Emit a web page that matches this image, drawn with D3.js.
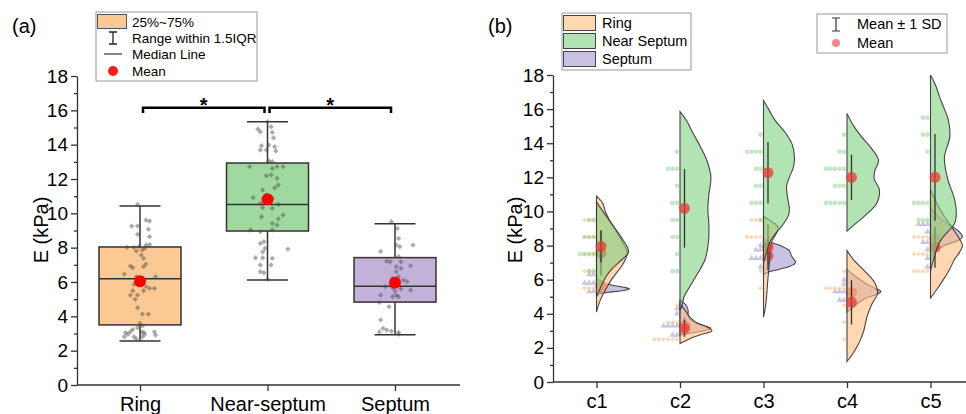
<!DOCTYPE html>
<html>
<head>
<meta charset="utf-8">
<script src="https://cdn.jsdelivr.net/npm/d3@7"></script>
<style>
  body { margin: 0; background: #fff; }
  svg { display: block; }
  text { font-family: "Liberation Sans", Arial, sans-serif; fill: #000; }
</style>
</head>
<body>
<svg id="chart" width="966" height="414"></svg>
<script>
// ---------- panel (a): box plot data ----------
const groupsA = ['Ring', 'Near-septum', 'Septum'];
const whiskerLow  = [2.56, 6.12, 2.93];
const q1          = [3.50, 8.97, 4.83];
const median      = [6.19, 10.52, 5.75];
const q3          = [8.04, 12.93, 7.42];
const whiskerHigh = [10.43, 15.34, 9.40];
const meanA       = [6.04, 10.82, 5.96];

// raw points: [value, jitter]
const ringPts = [[10.52,-2],[9.61,5],[9.55,8],[9.26,-7],[9.26,-2],[9.07,7],[8.78,-2],[8.64,8],[8.02,-11],[8.02,-5],[8.06,-1],[8.15,5],[8.19,8],[7.80,-3],[7.86,2],[7.96,4],[7.57,1],[7.38,3],[7.05,5],[6.93,-8],[6.83,-6],[6.89,3],[6.46,-13],[6.31,-3],[5.98,-2],[6.31,13],[6.06,2],[5.86,-5],[5.73,5],[5.63,8],[5.63,12],[5.49,3],[5.49,-6],[5.24,-8],[5.24,-2],[4.99,-4],[4.50,-2],[4.13,2],[4.13,7],[3.59,0],[3.44,2],[3.34,-2],[3.24,-6],[3.10,-8],[3.05,-12],[2.95,-10],[3.10,1],[3.07,3],[3.10,12],[2.91,13],[2.81,-13],[2.81,-5],[2.68,-3],[2.81,2],[2.95,4]];
const nearPts = [[15.34,0],[14.91,-8],[14.75,-6],[15.05,3],[14.71,4],[14.40,5],[13.94,-5],[13.98,1],[13.88,6],[13.69,-6],[13.69,-1],[13.63,7],[13.01,4],[13.05,1],[12.72,-15],[12.62,4],[12.72,8],[12.72,13],[12.19,-1],[12.23,3],[12.04,8],[11.65,9],[11.49,6],[11.36,-4],[11.06,-1],[10.91,-12],[10.97,0],[10.87,4],[10.58,-6],[10.52,9],[10.33,-4],[10.29,4],[9.90,13],[9.80,-5],[9.67,9],[9.41,4],[9.32,8],[9.03,-14],[8.93,-6],[9.03,4],[8.35,-3],[8.25,-6],[7.96,-2],[7.76,-4],[7.92,17],[7.41,-10],[7.41,-4],[7.38,4],[6.99,-6],[6.99,3],[6.60,-6],[6.54,-3],[6.15,0]];
const septPts = [[9.51,-3],[9.12,2],[8.54,3],[8.15,1],[8.06,4],[8.15,15],[7.77,-12],[7.47,3],[7.22,-7],[7.18,-4],[7.18,5],[6.89,1],[6.95,13],[6.79,5],[6.60,1],[6.31,3],[6.21,-2],[6.11,7],[6.02,10],[5.73,-8],[5.67,-2],[5.59,5],[5.53,13],[5.47,0],[5.24,1],[5.24,-12],[5.14,-2],[5.14,3],[4.81,-13],[4.56,-5],[3.79,-12],[3.30,-10],[3.20,-7],[3.14,-3],[3.10,-13],[3.07,3],[2.95,3]];
const pointsA = [ringPts, nearPts, septPts];
const sigPairs = [['Ring', 'Near-septum'], ['Near-septum', 'Septum']];

// ---------- panel (b): half violins ----------
const cats = ['c1', 'c2', 'c3', 'c4', 'c5'];
const groupsB = ['Ring', 'Near Septum', 'Septum'];

// density profiles: [value, relative width]
const ringProfiles = [
  [[10.9,0],[10.5,0.18],[10.0,0.26],[9.5,0.38],[9.0,0.53],[8.5,0.68],[8.0,0.82],[7.6,0.91],[7.2,0.85],[6.8,0.74],[6.4,0.59],[6.0,0.44],[5.6,0.32],[5.2,0.21],[4.7,0.09],[4.1,0]],
  [[4.6,0],[4.2,0.15],[3.8,0.29],[3.5,0.47],[3.2,0.82],[3.0,0.94],[2.8,0.65],[2.6,0.35],[2.4,0.15],[2.25,0]],
  [[9.7,0],[9.4,0.25],[9.1,0.42],[8.8,0.4],[8.3,0.26],[7.7,0.19],[7.1,0.18],[6.5,0.15],[5.8,0.12],[5.0,0.09],[4.3,0.05],[3.8,0]],
  [[7.7,0],[7.15,0.2],[6.55,0.5],[5.8,0.82],[5.2,0.9],[4.6,0.74],[3.85,0.59],[3.05,0.5],[2.5,0.4],[2.05,0.29],[1.6,0.15],[1.2,0]],
  [[11.3,0],[10.5,0.18],[9.7,0.41],[9.0,0.65],[8.4,0.85],[8.0,0.94],[7.6,0.85],[7.2,0.71],[6.6,0.56],[6.0,0.38],[5.5,0.21],[5.0,0.03],[4.9,0]]
];
const nearProfiles = [
  [[10.55,0],[10.2,0.12],[9.8,0.26],[9.3,0.44],[8.8,0.62],[8.3,0.79],[7.9,0.91],[7.6,0.94],[7.3,0.82],[7.0,0.65],[6.6,0.44],[6.2,0.29],[5.8,0.18],[5.4,0.09],[5.0,0]],
  [[15.85,0],[15.3,0.2],[14.6,0.38],[13.8,0.6],[13.0,0.79],[12.0,0.91],[11.0,0.85],[10.1,0.82],[9.2,0.85],[8.3,0.84],[7.2,0.74],[6.3,0.5],[5.6,0.29],[5.0,0.12],[4.5,0.06],[4.2,0]],
  [[16.5,0],[16.0,0.15],[15.4,0.32],[14.6,0.65],[13.9,0.85],[13.2,0.91],[12.6,0.88],[12.0,0.76],[11.5,0.68],[10.8,0.71],[10.2,0.76],[9.8,0.74],[9.2,0.56],[8.7,0.35],[8.2,0.18],[7.6,0.09],[7.0,0]],
  [[15.75,0],[15.0,0.2],[14.4,0.42],[13.8,0.68],[13.0,0.93],[12.4,0.82],[11.9,0.8],[11.3,0.95],[10.5,0.88],[9.7,0.5],[9.2,0.2],[8.85,0]],
  [[18.0,0],[17.4,0.15],[16.7,0.27],[16.0,0.41],[15.4,0.52],[14.4,0.57],[13.2,0.41],[12.4,0.45],[11.8,0.52],[10.7,0.71],[9.9,0.76],[9.3,0.71],[8.5,0.37],[8.1,0.24],[7.2,0.09],[6.5,0]]
];
const septProfiles = [
  [[6.1,0],[5.9,0.12],[5.7,0.41],[5.55,0.82],[5.45,0.97],[5.35,0.74],[5.25,0.29],[5.15,0.06],[5.1,0]],
  [[4.8,0],[4.5,0.18],[4.2,0.24],[3.9,0.24],[3.6,0.35],[3.35,0.62],[3.15,0.91],[3.0,0.7],[2.85,0.25],[2.75,0]],
  [[8.4,0],[8.2,0.2],[8.0,0.5],[7.7,0.76],[7.4,0.82],[7.0,0.94],[6.8,0.8],[6.6,0.45],[6.45,0.15],[6.3,0]],
  [[6.6,0],[6.2,0.24],[5.8,0.53],[5.5,0.82],[5.3,1.0],[5.15,0.88],[4.9,0.53],[4.5,0.24],[4.1,0]],
  [[10.2,0],[9.8,0.18],[9.4,0.41],[9.1,0.65],[8.8,0.85],[8.5,0.94],[8.3,0.82],[8.0,0.41],[7.6,0.12],[7.2,0]]
];

// raw values shown as dots
const ringDots = [
  [9.5,9.5,9.5,8.5,8.5,8.5,7.5,7.5,7.5,6.5,6.5,6.5,5.5,5.5,5.5],
  [4.5,3.5,3.5,3.5,2.5,2.5,2.5,2.5,2.5,2.5],
  [9.5,9.5,9.5,8.5,8.5,8.5,8.5,6.5,5.5],
  [6.5,5.5,5.5,5.5,5.5,5.5,4.5,3.5,2.5],
  [8.5,8.5,8.5,8.5,7.5,7.5,7.5,7.5,6.5,6.5,6.5,6.5]
];
const nearDots = [
  [9.5,9.5,8.5,8.5,8.5,7.5,7.5,7.5,7.5,6.5,6.5],
  [13.5,12.5,12.5,12.5,11.5,10.5,10.5,9.5,9.5,8.5,8.5,7.5,6.5,6.5],
  [14.5,13.5,13.5,13.5,13.5,12.5,12.5,11.5,11.5,10.5,10.5,10.5,9.5],
  [14.5,13.5,13.5,12.5,12.5,12.5,12.5,12.5,11.5,11.5,11.5,10.5,10.5,10.5,10.5,10.5],
  [15.5,15.5,14.5,14.5,13.5,10.5,10.5,10.5,10.5,9.5,9.5,9.5]
];
const septDots = [
  [6.3,6.3,5.8,5.8,5.8,5.3,5.3],
  [4.3,4.0,3.3,3.3,3.3,3.3,2.75,2.75],
  [8.0,7.75,7.75,7.25,7.25,7.25,6.75],
  [6.0,5.75,5.3,5.3,5.3,4.8,4.8],
  [9.25,9.25,9.25,8.8,8.2,8.2,7.75,7.25,6.75]
];

const ringMean = [7.55, 3.15, 7.90, 4.67, 7.90];
const ringSD   = [1.30, 0.50, 1.35, 1.30, 1.20];
const nearMean = [7.95, 10.18, 12.27, 12.00, 12.00];
const nearSD   = [0.95, 2.30, 1.80, 1.33, 2.54];
const septMean = [5.60, 3.30, 7.40, 5.24, 8.40];
const septSD   = [0.40, 0.50, 0.50, 0.40, 0.70];

// ---------- drawing ----------
const svg = d3.select('#chart');
const axisColor = '#333';

function styleAxis(g, size) {
  g.attr('font-family', '"Liberation Sans", Arial, sans-serif').attr('font-size', size);
  g.selectAll('line').attr('stroke', axisColor).attr('stroke-width', 1.3);
  g.selectAll('path').attr('stroke', axisColor).attr('stroke-width', 1.3);
  g.selectAll('text').attr('fill', '#000');
}

function drawYAxis(y, x0, xEnd) {
  const major = svg.append('g').attr('transform', `translate(${x0},0)`)
    .call(d3.axisLeft(y).tickValues(d3.range(0, 19, 2)).tickSize(6).tickPadding(3).tickSizeOuter(0));
  styleAxis(major, 19);
  const minor = svg.append('g').attr('transform', `translate(${x0},0)`)
    .call(d3.axisLeft(y).tickValues(d3.range(1, 18, 2)).tickSize(3).tickFormat(''));
  minor.select('.domain').remove();
  styleAxis(minor, 19);
  svg.append('line')
    .attr('x1', x0).attr('x2', xEnd)
    .attr('y1', y(0)).attr('y2', y(0))
    .attr('stroke', axisColor).attr('stroke-width', 1.3);
}

function drawXAxis(x, y0) {
  const g = svg.append('g').attr('transform', `translate(0,${y0})`)
    .call(d3.axisBottom(x).tickSize(6).tickPadding(6).tickSizeOuter(0));
  g.select('.domain').remove();
  styleAxis(g, 20);
}

// ===== panel (a) =====
const yA = d3.scaleLinear().domain([0, 18]).range([385, 76]);
const xA = d3.scalePoint().domain(groupsA).range([140, 395]);
const boxW = 82;
const jitter = d3.scaleLinear().domain([-40, 40]).range([-48, 48]);
const boxColors = ['#FCC894', '#A0D9A0', '#C2B2DA'];

drawYAxis(yA, 77, 460);
drawXAxis(xA, 385);

groupsA.forEach((grp, i) => {
  const cx = xA(grp);
  const g = svg.append('g');
  g.append('line').attr('x1', cx).attr('x2', cx)
    .attr('y1', yA(whiskerLow[i])).attr('y2', yA(whiskerHigh[i]))
    .attr('stroke', axisColor).attr('stroke-width', 1.5);
  [whiskerLow[i], whiskerHigh[i]].forEach(v => {
    g.append('line').attr('x1', cx - boxW / 4).attr('x2', cx + boxW / 4)
      .attr('y1', yA(v)).attr('y2', yA(v))
      .attr('stroke', axisColor).attr('stroke-width', 1.5);
  });
  g.append('rect')
    .attr('x', cx - boxW / 2).attr('y', yA(q3[i]))
    .attr('width', boxW).attr('height', yA(q1[i]) - yA(q3[i]))
    .attr('fill', boxColors[i]).attr('stroke', axisColor).attr('stroke-width', 1.5);
  g.append('line').attr('x1', cx - boxW / 2).attr('x2', cx + boxW / 2)
    .attr('y1', yA(median[i])).attr('y2', yA(median[i]))
    .attr('stroke', axisColor).attr('stroke-width', 1.5);

  g.selectAll('path.pt')
    .data(pointsA[i])
    .enter()
    .append('path')
    .attr('class', 'pt')
    .attr('d', d3.symbol(d3.symbolSquare, 14))
    .attr('transform', d => `translate(${cx + jitter(d[1])},${yA(d[0])}) rotate(45)`)
    .attr('fill', '#444')
    .attr('fill-opacity', 0.45);

  g.append('circle').attr('cx', cx).attr('cy', yA(meanA[i])).attr('r', 6)
    .attr('fill', '#FF0000');
});

// significance brackets
sigPairs.forEach(([a, b], k) => {
  const x1 = xA(a) + (k === 0 ? 3 : 2);
  const x2 = xA(b) - (k === 0 ? 3 : 4);
  svg.append('path')
    .attr('d', `M${x1},${yA(15.85)}V${yA(16.15)}H${x2}V${yA(15.85)}`)
    .attr('fill', 'none').attr('stroke', '#000').attr('stroke-width', 2.5);
  svg.append('text')
    .attr('x', (x1 + x2) / 2).attr('y', yA(16.15) + 4)
    .attr('text-anchor', 'middle').attr('font-size', 20).attr('font-weight', 'bold')
    .text('*');
});

svg.append('text')
  .attr('transform', 'translate(48,230) rotate(-90)')
  .attr('text-anchor', 'middle').attr('font-size', 20)
  .text('E (kPa)');
svg.append('text').attr('x', 12).attr('y', 33).attr('font-size', 20).text('(a)');

// legend (a)
const legA = svg.append('g');
legA.append('rect').attr('x', 96).attr('y', 12).attr('width', 161).attr('height', 69)
  .attr('fill', '#fff').attr('stroke', '#999').attr('stroke-width', 1);
legA.append('rect').attr('x', 97.5).attr('y', 14.5).attr('width', 29).attr('height', 14)
  .attr('fill', boxColors[0]).attr('stroke', '#555').attr('stroke-width', 1);
legA.append('path').attr('d', 'M109,32H117M113,32V44M109,44H117')
  .attr('stroke', '#222').attr('stroke-width', 1.3).attr('fill', 'none');
legA.append('line').attr('x1', 104).attr('x2', 122).attr('y1', 54).attr('y2', 54)
  .attr('stroke', '#444').attr('stroke-width', 1.3);
legA.append('circle').attr('cx', 113).attr('cy', 71).attr('r', 5).attr('fill', '#FF1a1a');
['25%~75%', 'Range within 1.5IQR', 'Median Line', 'Mean'].forEach((t, i) => {
  legA.append('text').attr('x', 132).attr('y', [22, 38, 54, 71][i]).attr('dy', '0.35em')
    .attr('font-size', 13.5).text(t);
});

// ===== panel (b) =====
const yB = d3.scaleLinear().domain([0, 18]).range([382, 75]);
const xB = d3.scalePoint().domain(cats).range([596.5, 930.5]);
const wB = d3.scaleLinear().domain([0, 1]).range([0, 34]);

drawYAxis(yB, 553, 966);
drawXAxis(xB, 382);

const violinFill = { 'Ring': '#FFBE7F', 'Near Septum': '#7FD17F', 'Septum': '#A898D0' };
const swatchFill = { 'Ring': '#FFD8B2', 'Near Septum': '#B2E3B2', 'Septum': '#CBC1E3' };
const dotFill = { 'Ring': '#FDB070', 'Near Septum': '#8ACF8A', 'Septum': '#9A8CCB' };
const dotShape = { 'Ring': d3.symbolSquare, 'Near Septum': d3.symbolCircle, 'Septum': d3.symbolTriangle };
const dotSize = { 'Ring': 11, 'Near Septum': 17, 'Septum': 16 };

const seriesB = {
  'Ring': { prof: ringProfiles, dots: ringDots, mean: ringMean, sd: ringSD },
  'Near Septum': { prof: nearProfiles, dots: nearDots, mean: nearMean, sd: nearSD },
  'Septum': { prof: septProfiles, dots: septDots, mean: septMean, sd: septSD }
};

// drawing order: Septum, then Ring, then Near Septum on top
['Septum', 'Ring', 'Near Septum'].forEach(grp => {
  const s = seriesB[grp];
  cats.forEach((c, ci) => {
    const cx = xB(c);
    const g = svg.append('g');
    const area = d3.area()
      .y(d => yB(d[0]))
      .x0(cx)
      .x1(d => cx + wB(d[1]))
      .curve(d3.curveCatmullRom.alpha(0.5));
    g.append('path')
      .attr('d', area(s.prof[ci]))
      .attr('fill', violinFill[grp]).attr('fill-opacity', 0.6)
      .attr('stroke', '#333').attr('stroke-width', 1.1).attr('stroke-opacity', 0.9);

    // dots stacked leftwards from the axis
    const seen = {};
    const stacked = s.dots[ci].map(v => {
      const k = seen[v] || 0;
      seen[v] = k + 1;
      return { v, k };
    });
    g.selectAll('path.dot')
      .data(stacked)
      .enter()
      .append('path')
      .attr('class', 'dot')
      .attr('d', d3.symbol(dotShape[grp], dotSize[grp]))
      .attr('transform', d => `translate(${cx - 3 - 4.5 * d.k},${yB(d.v)})` + (grp === 'Ring' ? ' rotate(45)' : ''))
      .attr('fill', dotFill[grp]).attr('fill-opacity', 0.5);

    const mx = cx + 4.5;
    g.append('line').attr('x1', mx).attr('x2', mx)
      .attr('y1', yB(s.mean[ci] - s.sd[ci])).attr('y2', yB(s.mean[ci] + s.sd[ci]))
      .attr('stroke', '#333').attr('stroke-width', 1.3);
    g.append('circle').attr('cx', mx).attr('cy', yB(s.mean[ci])).attr('r', 5.5)
      .attr('fill', '#E53935').attr('fill-opacity', 0.75);
  });
});

svg.append('text')
  .attr('transform', 'translate(522,230) rotate(-90)')
  .attr('text-anchor', 'middle').attr('font-size', 20)
  .text('E (kPa)');
svg.append('text').attr('x', 488).attr('y', 33).attr('font-size', 20).text('(b)');

// legend (b) groups
const legB = svg.append('g');
legB.append('rect').attr('x', 562).attr('y', 13).attr('width', 129).attr('height', 57)
  .attr('fill', '#fff').attr('stroke', '#999').attr('stroke-width', 1);
groupsB.forEach((grp, i) => {
  legB.append('rect').attr('x', 563.5).attr('y', 15.5 + 18 * i).attr('width', 32).attr('height', 15)
    .attr('fill', swatchFill[grp]).attr('stroke', '#444').attr('stroke-width', 1);
  legB.append('text').attr('x', 602).attr('y', 23 + 18 * i).attr('dy', '0.35em')
    .attr('font-size', 14.5).text(grp);
});

// legend (b) statistics
const legS = svg.append('g');
legS.append('rect').attr('x', 817).attr('y', 14).attr('width', 130).attr('height', 39)
  .attr('fill', '#fff').attr('stroke', '#999').attr('stroke-width', 1);
legS.append('path').attr('d', 'M832,18H840M836,18V31M832,31H840')
  .attr('stroke', '#333').attr('stroke-width', 1.2).attr('fill', 'none');
legS.append('circle').attr('cx', 836).attr('cy', 43).attr('r', 4).attr('fill', '#E53935').attr('fill-opacity', 0.6);
legS.append('text').attr('x', 857).attr('y', 24).attr('dy', '0.35em').attr('font-size', 14.5).text('Mean ± 1 SD');
legS.append('text').attr('x', 857).attr('y', 43).attr('dy', '0.35em').attr('font-size', 14.5).text('Mean');
</script>
</body>
</html>
